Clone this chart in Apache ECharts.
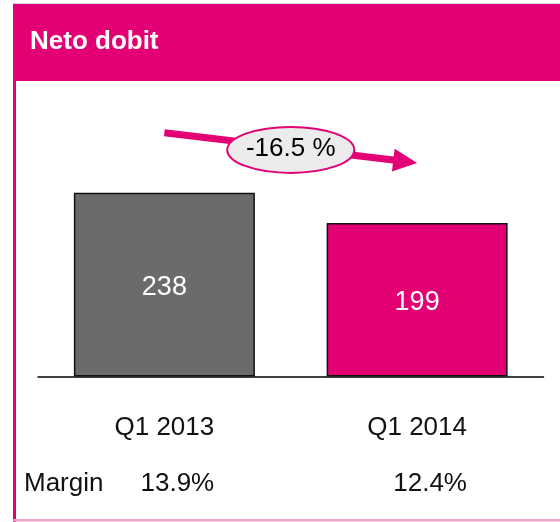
<!DOCTYPE html>
<html>
<head>
<meta charset="utf-8">
<script src="https://cdn.jsdelivr.net/npm/echarts@6/dist/echarts.min.js"></script>
<style>
html,body{margin:0;padding:0;background:#fff;}
#chart{width:560px;height:522px;}
</style>
</head>
<body>
<div id="chart"></div>
<script>
// ---- data ----
const titleText = 'Neto dobit';
const categories = ['Q1 2013', 'Q1 2014'];
const netProfit = [238, 199];
const marginLabel = 'Margin';
const margins = ['13.9%', '12.4%'];
const changeLabel = '-16.5 %';

// ---- styles ----
const MAGENTA = '#e20074';
const barColors = ['#6b6b6b', MAGENTA];
const FONT = "'Liberation Sans', Arial, Helvetica, sans-serif";

const chart = echarts.init(document.getElementById('chart'), null, {renderer: 'canvas'});

function renderArrow(params, api) {
  const p1 = api.coord([api.value(0), api.value(1)]);
  const p2 = api.coord([api.value(2), api.value(3)]);
  const start = [p1[0], p1[1] - 60];
  const tip = [p2[0], p2[1] - 60];
  const dx = tip[0] - start[0], dy = tip[1] - start[1];
  const len = Math.sqrt(dx * dx + dy * dy);
  const ux = dx / len, uy = dy / len;
  const px = -uy, py = ux;
  const headLen = 24, headHalf = 11.5;
  const base = [tip[0] - ux * headLen, tip[1] - uy * headLen];
  const mid = [(start[0] + tip[0]) / 2, (start[1] + tip[1]) / 2];
  return {
    type: 'group',
    children: [
      {
        type: 'line',
        shape: {x1: start[0], y1: start[1], x2: base[0] + ux * 2, y2: base[1] + uy * 2},
        style: {stroke: MAGENTA, lineWidth: 7, lineCap: 'butt'}
      },
      {
        type: 'polygon',
        shape: {points: [tip, [base[0] + px * headHalf, base[1] + py * headHalf], [base[0] - px * headHalf, base[1] - py * headHalf]]},
        style: {fill: MAGENTA}
      },
      {
        type: 'ellipse',
        shape: {cx: mid[0], cy: mid[1] + 2, rx: 63.5, ry: 23},
        style: {fill: '#ececec', stroke: MAGENTA, lineWidth: 2}
      },
      {
        type: 'text',
        style: {
          x: mid[0], y: mid[1] + 1, text: changeLabel,
          fill: '#000', font: '26px ' + FONT,
          align: 'center', verticalAlign: 'middle'
        }
      }
    ]
  };
}

const option = {
  animation: false,
  backgroundColor: '#fff',
  title: {
    text: titleText,
    left: 30,
    top: 27,
    padding: 0,
    textStyle: {color: '#fff', fontSize: 26, fontWeight: 'bold', fontFamily: FONT, lineHeight: 30}
  },
  graphic: [
    {type: 'rect', z: -1, shape: {x: 13, y: 4, width: 547, height: 77}, style: {fill: MAGENTA}},
    {type: 'rect', z: -1, shape: {x: 13, y: 3, width: 547, height: 1}, style: {fill: '#d8d8d8'}},
    {type: 'rect', z: -1, shape: {x: 13, y: 81, width: 3, height: 441}, style: {fill: MAGENTA}},
    {type: 'rect', z: -1, shape: {x: 13, y: 519, width: 547, height: 2.5}, style: {fill: '#f2a4cc'}},
    {type: 'text', style: {x: 24, y: 484, text: marginLabel, fill: '#111', font: '26px ' + FONT, align: 'left', verticalAlign: 'middle'}}
  ],
  grid: {left: 38, right: 16.5, top: 145, bottom: 145.5, containLabel: false},
  xAxis: [
    {
      type: 'category',
      data: categories,
      position: 'bottom',
      axisLine: {show: true, lineStyle: {color: '#000', width: 1.5}},
      axisTick: {show: false},
      splitLine: {show: false},
      axisLabel: {color: '#111', fontSize: 26, fontFamily: FONT, margin: 36, lineHeight: 30}
    },
    {
      type: 'category',
      data: margins,
      position: 'bottom',
      axisLine: {show: false},
      axisTick: {show: false},
      splitLine: {show: false},
      axisLabel: {color: '#111', fontSize: 26, fontFamily: FONT, margin: 92, lineHeight: 30, padding: [0, 0, 0, 26]}
    }
  ],
  yAxis: {type: 'value', min: 0, max: 300, show: false, splitLine: {show: false}},
  series: [
    {
      type: 'bar',
      xAxisIndex: 0,
      barWidth: 181,
      clip: false,
      data: netProfit.map((v, i) => ({value: v, itemStyle: {color: barColors[i]}})),
      itemStyle: {borderColor: '#111', borderWidth: 1.5},
      label: {show: true, position: 'inside', color: '#fff', fontSize: 27, fontFamily: FONT, offset: [0, 3]}
    },
    {
      type: 'custom',
      xAxisIndex: 0,
      clip: false,
      z: 5,
      silent: true,
      data: [[0, netProfit[0], 1, netProfit[1]]],
      encode: {x: 0, y: 1},
      renderItem: renderArrow
    }
  ]
};
chart.setOption(option);
</script>
</body>
</html>
